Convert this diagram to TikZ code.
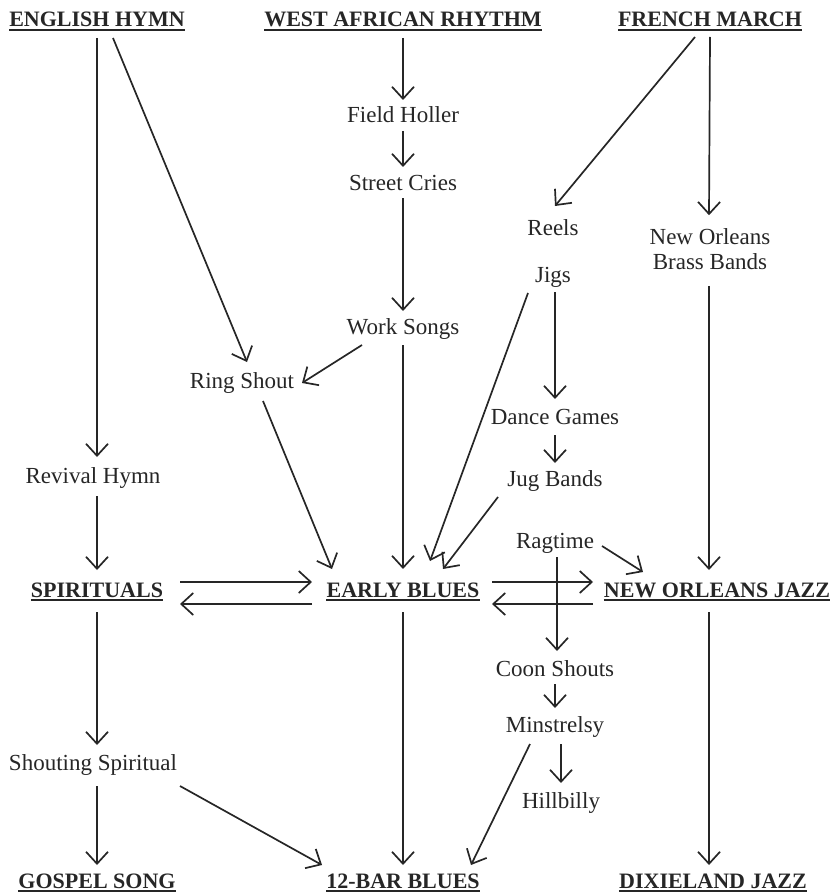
\documentclass[tikz,border=0pt]{standalone}
\usepackage{fontspec}
\setmainfont{Liberation Serif}
\usetikzlibrary{arrows.meta,calc}
\begin{document}
\begin{tikzpicture}[x=1pt,y=-1pt,
  txt/.style={inner sep=0pt, anchor=base, font=\fontsize{23}{25}\selectfont, text=black!85},
  ttl/.style={inner sep=0pt, anchor=base, font=\fontsize{22}{26}\selectfont\bfseries, text=black!85},
  arr/.style={line width=1.7pt, draw=black!85, -{Straight Barb[length=12pt,width=22pt,line width=1.7pt]}},
  uline/.style={line width=1.4pt, draw=black!85}]
\useasboundingbox (0,0) rectangle (833,896);
% titles
\node[ttl] (eh)  at (97,27)  {ENGLISH HYMN};
\node[ttl] (war) at (403,27) {WEST AFRICAN RHYTHM};
\node[ttl] (fm)  at (710,27) {FRENCH MARCH};
\node[ttl] (sp)  at (97,597) {SPIRITUALS};
\node[ttl] (eb)  at (403,597) {EARLY BLUES};
\node[ttl] (noj) at (717,597) {NEW ORLEANS JAZZ};
\node[ttl] (gs)  at (97,888) {GOSPEL SONG};
\node[ttl] (tbb) at (403,888) {12-BAR BLUES};
\node[ttl] (dj)  at (713,888) {DIXIELAND JAZZ};
\foreach \n in {eh,war,fm,sp,eb,noj,gs,tbb,dj}
  \draw[uline] ([yshift=-3pt]\n.base west) -- ([yshift=-3pt]\n.base east);
% other nodes
\node[txt] (fh)    at (403,123) {Field Holler};
\node[txt] (sc)    at (403,190) {Street Cries};
\node[txt] (reels) at (553,235) {Reels};
\node[txt, anchor=center, align=center] (nob) at (710,249) {New Orleans\\Brass Bands};
\node[txt] (jigs)  at (553,282) {Jigs};
\node[txt] (ws)    at (403,334) {Work Songs};
\node[txt] (rs)    at (242,388) {Ring Shout};
\node[txt] (dg)    at (555,424) {Dance Games};
\node[txt] (rh)    at (93,483)  {Revival Hymn};
\node[txt] (jb)    at (555,486) {Jug Bands};
\node[txt] (rag)   at (555,548) {Ragtime};
\node[txt] (cs)    at (555,676) {Coon Shouts};
\node[txt] (min)   at (555,732) {Minstrelsy};
\node[txt] (hb)    at (561,808) {Hillbilly};
\node[txt] (ss)    at (93,770)  {Shouting Spiritual};
% connectors
\draw[arr] ([shift={(0,11)}]eh.base) -- ([shift={(4,-26)}]rh.base);
\draw[arr] ([shift={(16,11)}]eh.base) -- ([shift={(5,-26)}]rs.base);
\draw[arr] ([shift={(0,11)}]war.base) -- ([shift={(0,-23)}]fh.base);
\draw[arr] ([shift={(0,8)}]fh.base) -- ([shift={(0,-23)}]sc.base);
\draw[arr] ([shift={(0,8)}]sc.base) -- ([shift={(0,-23)}]ws.base);
\draw[arr] ([shift={(-15,10)}]fm.base) -- ([shift={(2,-29)}]reels.base);
\draw[arr] ([shift={(0,10)}]fm.base) -- ([shift={(-1,-13)}]nob.north);
\draw[arr] ([shift={(-1,16)}]nob.south) -- ([shift={(-8,-27)}]noj.base);
\draw[arr] ([shift={(2,10)}]jigs.base) -- ([shift={(0,-25)}]dg.base);
\draw[arr] ([shift={(-25,11)}]jigs.base) -- ([shift={(27,-36)}]eb.base);
\draw[arr] ([shift={(-41,11)}]ws.base) -- ([shift={(60,-5)}]rs.base);
\draw[arr] ([shift={(0,11)}]ws.base) -- ([shift={(0,-28)}]eb.base);
\draw[arr] ([shift={(21,13)}]rs.base) -- ([shift={(-71,-28)}]eb.base);
\draw[arr] ([shift={(0,11)}]dg.base) -- ([shift={(0,-23)}]jb.base);
\draw[arr] ([shift={(-57,11)}]jb.base) -- ([shift={(40,-28)}]eb.base);
\draw[arr] ([shift={(4,13)}]rh.base) -- ([shift={(0,-27)}]sp.base);
\draw[arr] ([shift={(47,-2)}]rag.base) -- ([shift={(-74,-25)}]noj.base);
\draw[arr] ([shift={(2,9)}]rag.base) -- ([shift={(2,-25)}]cs.base);
\draw[arr] ([shift={(83,-15)}]sp.base) -- ([shift={(-91,-15)}]eb.base);
\draw[arr] ([shift={(-91,7)}]eb.base) -- ([shift={(83,7)}]sp.base);
\draw[arr] ([shift={(89,-15)}]eb.base) -- ([shift={(-124,-15)}]noj.base);
\draw[arr] ([shift={(-124,7)}]noj.base) -- ([shift={(89,7)}]eb.base);
\draw[arr] ([shift={(0,15)}]sp.base) -- ([shift={(4,-25)}]ss.base);
\draw[arr] ([shift={(0,15)}]eb.base) -- ([shift={(0,-23)}]tbb.base);
\draw[arr] ([shift={(-8,15)}]noj.base) -- ([shift={(-4,-23)}]dj.base);
\draw[arr] ([shift={(0,8)}]cs.base) -- ([shift={(0,-24)}]min.base);
\draw[arr] ([shift={(6,12)}]min.base) -- ([shift={(0,-25)}]hb.base);
\draw[arr] ([shift={(-25,12)}]min.base) -- ([shift={(68,-23)}]tbb.base);
\draw[arr] ([shift={(4,16)}]ss.base) -- ([shift={(0,-23)}]gs.base);
\draw[arr] ([shift={(87,16)}]ss.base) -- ([shift={(-81,-23)}]tbb.base);
\end{tikzpicture}
\end{document}
